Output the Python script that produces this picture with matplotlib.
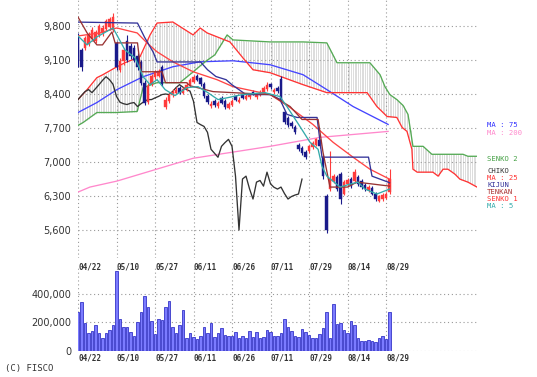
import matplotlib
matplotlib.use("Agg")
import matplotlib.pyplot as plt
import numpy as np

# ---- data (x = trading-day index, 0 = 04/22) ----
dates = ["04/22", "05/10", "05/27", "06/11", "06/26", "07/11", "07/29", "08/14", "08/29"]
date_pos = [0, 11, 22, 33, 44, 55, 66, 77, 88]
price_ticks = [5600, 6300, 7000, 7700, 8400, 9100, 9800]
vol_ticks = [0, 200000, 400000]

opens = [9550, 9300, 9350, 9420, 9560, 9500, 9620, 9650, 9740, 9780,
         9720, 9450, 8890, 9080, 9500, 9380, 9350, 9180, 9050, 8630,
         8240, 8600, 8750, 8770, 8960, 8130, 8250, 8380, 8420, 8520,
         8430, 8500, 8580, 8650, 8780, 8720, 8600, 8350, 8150, 8250,
         8150, 8320, 8260, 8120, 8180, 8350, 8240, 8380, 8300, 8330,
         8450, 8330, 8380, 8420, 8500, 8600, 8440, 8520, 8700, 8020,
         7900, 7800, 7720, 7350, 7280, 7200, 7220, 7300, 7360, 7450,
         7100, 6300, 6450, 6600, 6700, 6750, 6350, 6550, 6650, 6600,
         6700, 6600, 6520, 6420, 6470, 6350, 6200, 6230, 6260, 6380]
closes = [9100, 8950, 9550, 9620, 9720, 9670, 9800, 9760, 9900, 9950,
          9980, 8960, 9080, 9300, 9090, 9180, 9100, 8950, 8630, 8220,
          8560, 8780, 8850, 8880, 8600, 8285, 8370, 8449, 8490, 8428,
          8510, 8592, 8680, 8756, 8695, 8600, 8350, 8230, 8200, 8183,
          8210, 8224, 8142, 8200, 8250, 8285, 8285, 8320, 8350, 8388,
          8400, 8388, 8450, 8530, 8592, 8540, 8490, 8460, 8250, 7814,
          7770, 7733, 7610, 7262, 7180, 7098, 7323, 7400, 7466, 7323,
          6709, 5600, 6650, 6709, 6450, 6238, 6586, 6620, 6504, 6791,
          6550, 6480, 6443, 6484, 6350, 6238, 6290, 6320, 6341, 6648]
highs = [9650, 9350, 9600, 9680, 9780, 9720, 9850, 9820, 9950, 9990,
         10060, 9500, 9150, 9350, 9620, 9450, 9400, 9250, 9100, 8680,
         8620, 8820, 8900, 8920, 9000, 8330, 8420, 8500, 8540, 8560,
         8550, 8640, 8720, 8800, 8820, 8750, 8640, 8400, 8260, 8290,
         8260, 8350, 8290, 8240, 8290, 8380, 8330, 8410, 8390, 8420,
         8480, 8420, 8490, 8570, 8640, 8630, 8530, 8560, 8780, 8060,
         7940, 7850, 7760, 7400, 7320, 7250, 7360, 7440, 7500, 7480,
         7150, 6350, 7220, 6760, 6740, 6800, 6620, 6680, 6690, 6850,
         6740, 6640, 6560, 6520, 6500, 6380, 6330, 6360, 6380, 6850]
lows = [8950, 8880, 9300, 9380, 9500, 9460, 9580, 9600, 9700, 9720,
        9680, 8900, 8850, 9000, 9050, 9120, 9050, 8900, 8580, 8180,
        8200, 8560, 8700, 8740, 8560, 8100, 8220, 8340, 8390, 8390,
        8400, 8470, 8550, 8620, 8660, 8560, 8320, 8200, 8110, 8140,
        8120, 8190, 8100, 8090, 8150, 8250, 8210, 8290, 8270, 8300,
        8370, 8300, 8350, 8400, 8470, 8500, 8410, 8430, 8220, 7780,
        7730, 7690, 7570, 7220, 7140, 7060, 7190, 7270, 7330, 7290,
        6650, 5540, 6400, 6560, 6400, 6130, 6320, 6510, 6460, 6570,
        6510, 6440, 6400, 6390, 6320, 6200, 6170, 6200, 6230, 6350]
volume = [270000, 345000, 195000, 125000, 140000, 180000, 125000, 90000, 125000, 145000,
          180000, 560000, 225000, 165000, 170000, 135000, 105000, 200000, 275000, 385000,
          310000, 210000, 120000, 225000, 220000, 310000, 350000, 165000, 125000, 180000,
          285000, 90000, 125000, 100000, 85000, 105000, 170000, 125000, 195000, 95000,
          125000, 160000, 115000, 105000, 105000, 135000, 90000, 105000, 90000, 140000,
          95000, 130000, 90000, 100000, 145000, 135000, 107000, 107000, 126000, 225000,
          171000, 140000, 105000, 100000, 152000, 131000, 112000, 93000, 89000, 117000,
          159000, 272000, 93000, 330000, 189000, 194000, 147000, 128000, 213000, 182000,
          93000, 70000, 70000, 77000, 70000, 65000, 93000, 107000, 82000, 272000]

ma5_x = [0, 2.6, 5.4, 10, 11.1, 13.4, 16.3, 18.6, 20.6, 22.6, 24.9, 27.7, 31.1, 34.3,
         37.1, 40, 42.9, 46.9, 53.4, 57.7, 59.7, 63.4, 66.3, 68.6, 69.7, 71.1, 74.9,
         77.7, 80, 82, 85.4, 89]
ma5_y = [9595, 9411, 9575, 9759, 9616, 9309, 9145, 8756, 8592, 8695, 8490, 8367, 8531, 8551,
         8428, 8285, 8326, 8388, 8428, 8347, 8142, 7733, 7405, 7262, 6914, 6709, 6484,
         6545, 6586, 6443, 6341, 6443]
ma25_x = [0, 6.3, 10, 11.1, 16.9, 19.7, 22.6, 27.1, 32.9, 39.7, 44.3, 54.9, 60.6, 67.1,
          72.9, 78.6, 83.4, 89]
ma25_y = [9595, 9657, 9739, 9759, 9657, 9452, 9268, 9063, 8858, 8695, 8551, 8388, 8121, 7774,
          7405, 7098, 6852, 6648]
ma75_x = [0, 5.4, 11.1, 18.6, 27.1, 34.9, 44.3, 54.9, 64.3, 71.1, 78.6, 88.6]
ma75_y = [8019, 8224, 8490, 8756, 8961, 9063, 9084, 9002, 8797, 8490, 8142, 7774]
ma200_x = [0, 3.4, 11.1, 32.9, 54.9, 69.1, 88.6]
ma200_y = [6381, 6484, 6607, 7077, 7323, 7507, 7630]
tenkan_x = [0, 2.6, 5.4, 7, 9.7, 10.6, 17, 18, 24, 25, 31, 32, 38.6, 55, 60.6, 64,
            68.6, 70, 72, 77, 79.7, 89]
tenkan_y = [9984, 9657, 9411, 9411, 9677, 9452, 9452, 8858, 8858, 8633, 8633, 8570, 8449, 8388,
            8142, 7876, 7876, 7200, 6484, 6484, 6586, 6504]
kijun_x = [0, 17, 19, 21.5, 22.6, 35, 37, 39.4, 42.3, 44, 48, 55, 57.7, 59.7, 62.6,
           68.3, 69.7, 83, 84, 88.6, 89]
kijun_y = [9880, 9860, 9570, 9260, 9060, 9060, 8900, 8760, 8695, 8590, 8388, 8388, 8290, 7980,
           7917, 7917, 7100, 7100, 6709, 6586, 6570]
senko1_x = [0, 2.6, 5.4, 7.1, 10.6, 13.4, 17.7, 20.6, 22.6, 27.1, 32.9, 34.9, 36.9, 43.4,
            47.1, 50, 54.9, 64.3, 71.1, 82.6, 85.4, 88.3, 91.1, 92.6, 94, 95.4, 95.7,
            96.9, 101.4, 102.9, 104.3, 105.7, 107.7, 109.1, 111.4, 114]
senko1_y = [8285, 8490, 8736, 8797, 8940, 9043, 9165, 9616, 9861, 9882, 9616, 9759, 9657, 9472,
            9145, 8899, 8838, 8592, 8428, 8428, 8142, 7937, 7917, 7712, 7630, 7262, 6852,
            6791, 6791, 6709, 6852, 6852, 6750, 6648, 6586, 6484]
senko2_x = [0, 1.5, 5.4, 11.1, 16.9, 18.6, 22.6, 29.1, 32.6, 36.3, 39.1, 42.6, 44.3, 54.9,
            64.3, 71.1, 74, 83.4, 86.3, 87.7, 89.1, 91.1, 92.9, 94.3, 95.7, 98.6, 101.1,
            110, 111.4, 114]
senko2_y = [7753, 7815, 8019, 8019, 8040, 8531, 8633, 8633, 8838, 9063, 9206, 9616, 9513, 9472,
            9472, 9452, 9043, 9043, 8797, 8551, 8388, 8285, 8162, 7978, 7323, 7323, 7159,
            7159, 7118, 7118]

# right-hand legend: (text, colour, pixel y)
labels = [("MA : 75", "#3333ff", 125), ("MA : 200", "#ff88cc", 133),
          ("SENKO 2", "#44a044", 159), ("CHIKO", "#333333", 171),
          ("MA : 25", "#ff3333", 178), ("KIJUN", "#333399", 185),
          ("TENKAN", "#aa3333", 192), ("SENKO 1", "#ff3333", 199),
          ("MA : 5", "#33aaaa", 206)]

W, H = 537, 377
fig = plt.figure(figsize=(W / 100, H / 100), dpi=100)
fig.patch.set_facecolor("white")

x0, x1 = 78, 477
ax = fig.add_axes([x0 / W, (H - 258) / H, (x1 - x0) / W, 258 / H])
axv = fig.add_axes([x0 / W, (H - 351) / H, (x1 - x0) / W, 83 / H])

grid_kw = dict(color="#999999", lw=0.8, linestyle=(0, (1, 2.5)), zorder=1)

# cloud hatch
pos = np.arange(0, 114.01, 0.5)
s1 = np.interp(pos, senko1_x, senko1_y)
s2 = np.interp(pos, senko2_x, senko2_y)
ax.vlines(pos, s1, s2, color="#cfcfcf", lw=0.5, zorder=0)

for p in price_ticks:
    ax.axhline(p, **grid_kw)
for d in date_pos:
    ax.axvline(d, **grid_kw)
    axv.axvline(d, **grid_kw)
for v in vol_ticks:
    axv.axhline(v, **grid_kw)

lw = 0.95
ax.plot(ma200_x, ma200_y, color="#ff88cc", lw=lw, zorder=2)
ax.plot(ma75_x, ma75_y, color="#4444ff", lw=lw, zorder=2)
ax.plot(senko2_x, senko2_y, color="#55aa55", lw=lw, zorder=2)
ax.plot(senko1_x, senko1_y, color="#ff3333", lw=lw, zorder=2)
chiko = closes[25:]
ax.plot(np.arange(len(chiko)), chiko, color="#333333", lw=lw, zorder=2)

# candles
idx = np.arange(len(closes))
o = np.array(opens)
c = np.array(closes)
up = c >= o
col = np.where(up, "#ff3b3b", "#1a1a8a")
ax.vlines(idx, lows, highs, color=col, lw=0.8, zorder=3)
ax.bar(idx, np.abs(c - o), bottom=np.minimum(o, c), width=0.75, color=col,
       edgecolor=col, lw=0.3, zorder=3)

ax.plot(ma25_x, ma25_y, color="#ff4444", lw=lw, zorder=4)
ax.plot(kijun_x, kijun_y, color="#333399", lw=lw, zorder=4)
ax.plot(tenkan_x, tenkan_y, color="#993333", lw=lw, zorder=4)
ax.plot(ma5_x, ma5_y, color="#33aaaa", lw=lw, zorder=4)

axv.bar(idx, volume, width=0.7, color="#7b7bff", edgecolor="#3636c8", lw=0.6, zorder=2)

ax.set_xlim(0, 114)
ax.set_ylim(5024, 10335)
axv.set_xlim(0, 114)
axv.set_ylim(0, 582000)

for a in (ax, axv):
    for s in a.spines.values():
        s.set_visible(False)
    a.tick_params(length=0, colors="#333333")
    a.set_facecolor("none")

ax.set_yticks(price_ticks)
ax.set_yticklabels([f"{p:,}" for p in price_ticks], fontsize=7, family="DejaVu Sans")
axv.set_yticks(vol_ticks)
axv.set_yticklabels([f"{v:,}" for v in vol_ticks], fontsize=7, family="DejaVu Sans")
ax.tick_params(axis="y", pad=5)
axv.tick_params(axis="y", pad=5)

for a, pad in ((ax, 3), (axv, 1.5)):
    a.set_xticks(date_pos)
    a.set_xticklabels(dates, fontsize=5.5, family="DejaVu Sans Mono",
                      fontweight="bold", ha="left")
    a.tick_params(axis="x", pad=pad)

for text, color, ypx in labels:
    fig.text(487 / W, 1 - ypx / H, text, color=color, fontsize=5.2,
             family="DejaVu Sans Mono", va="center", ha="left")

fig.text(5 / W, 1 - 368 / H, "(C) FISCO", fontsize=6.5, family="DejaVu Sans Mono",
         color="#333333", va="center", ha="left")

fig.savefig("out.png", dpi=100)
